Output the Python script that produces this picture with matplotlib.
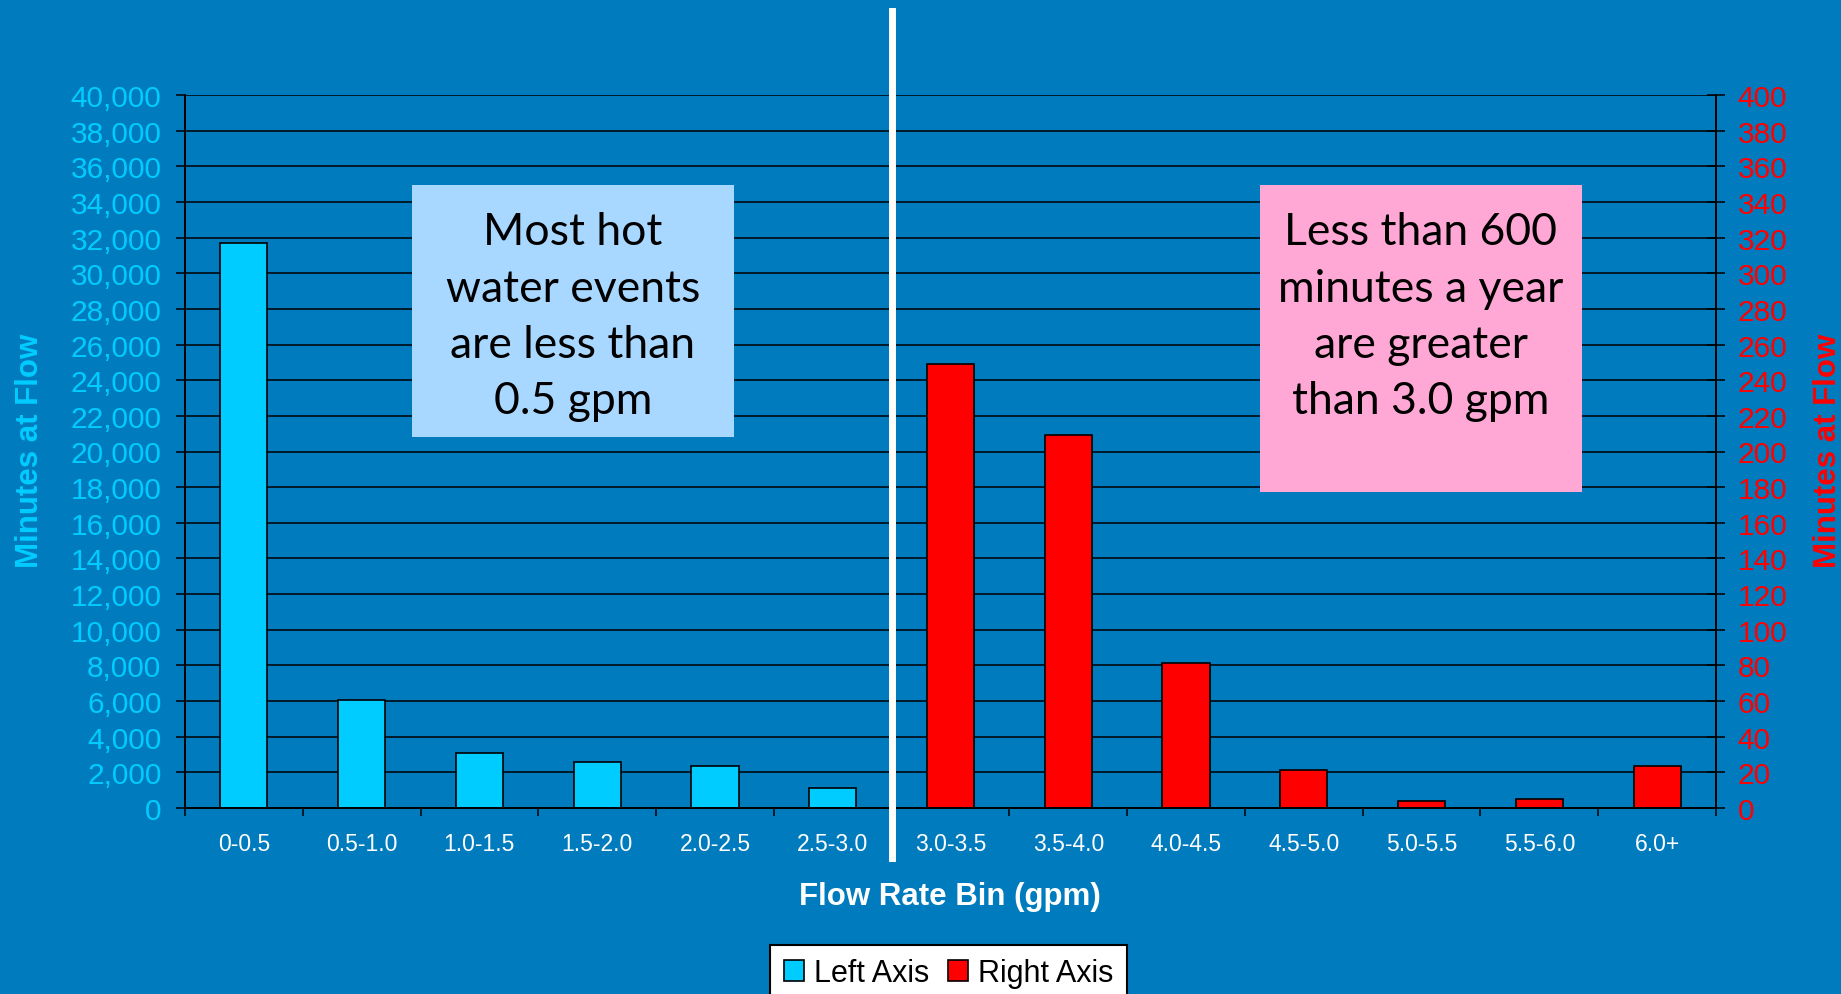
import matplotlib
matplotlib.use("Agg")
import matplotlib.pyplot as plt
from matplotlib.patches import Patch, Rectangle
from matplotlib.ticker import MultipleLocator, StrMethodFormatter, FixedLocator

# ---- data ----
bins = ["0-0.5", "0.5-1.0", "1.0-1.5", "1.5-2.0", "2.0-2.5", "2.5-3.0",
        "3.0-3.5", "3.5-4.0", "4.0-4.5", "4.5-5.0", "5.0-5.5", "5.5-6.0", "6.0+"]
left_minutes = [31700, 6070, 3100, 2580, 2330, 1150]        # 0 - 3.0 gpm
right_minutes = [249, 209.5, 81.5, 21.5, 4, 5, 23.5]        # 3.0+ gpm
left_note = ["Most hot", "water events", "are less than", "0.5 gpm"]
right_note = ["Less than 600", "minutes a year", "are greater", "than 3.0 gpm"]
legend_labels = ["Left Axis", "Right Axis"]

# ---- styling ----
W, H = 1841, 995
BG = "#007CBE"
CYAN = "#00CCFF"
RED = "#FF0000"
BLUE_BOX = "#A8D8FF"
PINK_BOX = "#FFA8D6"
SANS = "Liberation Sans"
NOTE_FONT = "Lato"

plt.rcParams["font.family"] = [SANS, "DejaVu Sans"]


def fx(x):
    return x / W


def fy(y):
    return 1 - y / H


fig = plt.figure(figsize=(W / 100, H / 100), dpi=100, facecolor=BG)
ax = fig.add_axes([fx(185), fy(809), (1716 - 185) / W, (809 - 96) / H])
ax.set_facecolor(BG)
ax2 = ax.twinx()
ax2.set_facecolor("none")

n_left = len(left_minutes)
x_left = list(range(n_left))
x_right = list(range(n_left, n_left + len(right_minutes)))

ax.set_axisbelow(True)
ax.bar(x_left, left_minutes, width=0.4, color=CYAN, edgecolor="black", linewidth=1.2, zorder=2)
ax2.bar(x_right, right_minutes, width=0.4, color=RED, edgecolor="black", linewidth=1.2, zorder=2)

ax.set_xlim(-0.5, len(bins) - 0.5)
ax.set_ylim(0, 40000)
ax2.set_ylim(0, 400)

# left axis
ax.yaxis.set_major_locator(MultipleLocator(2000))
ax.yaxis.set_major_formatter(StrMethodFormatter("{x:,.0f}"))
ax.yaxis.grid(True, color="black", linewidth=1.1)
ax.tick_params(axis="y", direction="out", length=6.5, width=1.1, color="black",
               labelcolor=CYAN, labelsize=21.5, pad=10.5)

# right axis
ax2.yaxis.set_major_locator(MultipleLocator(20))
ax2.tick_params(axis="y", direction="inout", length=13, width=1.1, color="black",
                labelcolor=RED, labelsize=21.5, pad=9)

# category axis: labels centred, tick marks between categories
ax.set_xticks(range(len(bins)))
ax.set_xticklabels(bins)
ax.tick_params(axis="x", which="major", length=0, labelcolor="white", labelsize=16.5, pad=17.5)
ax.xaxis.set_minor_locator(FixedLocator([i - 0.5 for i in range(len(bins) + 1)]))
ax.tick_params(axis="x", which="minor", direction="out", length=6, width=1.1, color="black")

for a in (ax, ax2):
    a.spines["top"].set_visible(False)
    for s in ("left", "right", "bottom"):
        a.spines[s].set_color("black")
        a.spines[s].set_linewidth(1.4)
ax2.spines["left"].set_visible(False)

# divider between the two axis groups
ax2.axvline(n_left - 0.5, ymin=(809 - 859) / 713, ymax=(809 - 12) / 713,
            color="white", linewidth=5, clip_on=False, zorder=5)

# axis titles
fig.text(fx(30), fy(451), "Minutes at Flow", rotation=90, ha="center", va="center",
         color=CYAN, fontsize=22.5, fontweight="bold")
fig.text(fx(1828), fy(451), "Minutes at Flow", rotation=90, ha="center", va="center",
         color=RED, fontsize=22.5, fontweight="bold")
fig.text(fx(950), fy(897), "Flow Rate Bin (gpm)", ha="center", va="center",
         color="white", fontsize=22.5, fontweight="bold")

# annotation boxes
baselines = [245, 301.5, 358, 414.5]
for (x0, x1, y0, y1), color, lines in (
    ((412, 734, 186, 438), BLUE_BOX, left_note),
    ((1260, 1582, 186, 493), PINK_BOX, right_note),
):
    ax2.add_patch(Rectangle((fx(x0), fy(y1)), (x1 - x0) / W, (y1 - y0) / H,
                            transform=fig.transFigure, facecolor=color, edgecolor="none",
                            clip_on=False, zorder=6))
    cx = (x0 + x1) / 2
    for yb, line in zip(baselines, lines):
        ax2.text(fx(cx), fy(yb), line, transform=fig.transFigure, ha="center", va="baseline",
                 fontsize=32, family=[NOTE_FONT, "DejaVu Sans"], color="black", zorder=7)

# legend
handles = [Patch(facecolor=CYAN, edgecolor="black", linewidth=1.2),
           Patch(facecolor=RED, edgecolor="black", linewidth=1.2)]
leg = fig.legend(handles, legend_labels, ncol=2, loc="upper center",
                 bbox_to_anchor=(fx(948.7), fy(945.7)), fontsize=22,
                 frameon=True, fancybox=False, framealpha=1, facecolor="white",
                 edgecolor="black", handlelength=0.66, handleheight=0.66,
                 handletextpad=0.33, columnspacing=0.6, borderpad=0.45,
                 borderaxespad=0)
leg.get_frame().set_linewidth(1.5)

fig.savefig("out.png", dpi=100, facecolor=BG)
